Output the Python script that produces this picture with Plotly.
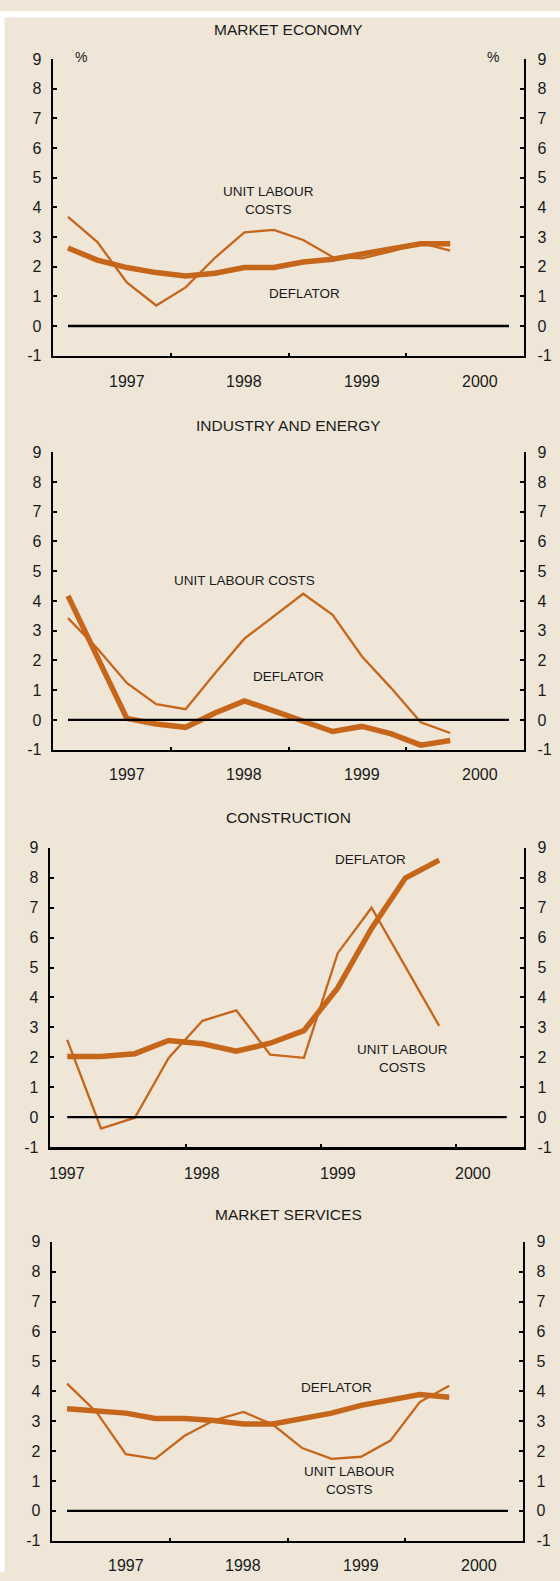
import plotly.graph_objects as go

W, H = 560, 1581

# ---------------- data ----------------
YEARS = ["1997", "1998", "1999", "2000"]
QUARTERS = [f"{y}Q{q}" for y in YEARS for q in (1, 2, 3, 4)]

ME_ULC = [3.68, 2.83, 1.47, 0.69, 1.30, 2.30, 3.16, 3.24, 2.90, 2.33, 2.28, 2.52, 2.80, 2.54]
ME_DEF = [2.63, 2.22, 1.97, 1.80, 1.69, 1.78, 1.97, 1.97, 2.16, 2.25, 2.43, 2.58, 2.77, 2.77]

IE_ULC = [3.42, 2.40, 1.24, 0.53, 0.36, 1.57, 2.73, 3.47, 4.24, 3.53, 2.13, 1.06, -0.08, -0.44]
IE_DEF = [4.17, 2.10, 0.05, -0.14, -0.25, 0.23, 0.64, 0.30, -0.03, -0.39, -0.22, -0.47, -0.85, -0.69]

CO_ULC = [2.58, -0.38, -0.02, 1.98, 3.22, 3.57, 2.09, 1.98, 5.48, 7.00, 5.03, 3.05]
CO_DEF = [2.03, 2.03, 2.12, 2.56, 2.45, 2.20, 2.47, 2.89, 4.32, 6.31, 7.99, 8.59]

MS_ULC = [4.26, 3.31, 1.90, 1.74, 2.51, 3.03, 3.31, 2.89, 2.10, 1.74, 1.81, 2.35, 3.64, 4.19]
MS_DEF = [3.42, 3.35, 3.27, 3.09, 3.09, 3.02, 2.91, 2.91, 3.09, 3.27, 3.53, 3.71, 3.89, 3.80]

Y_TICKS = list(range(-1, 10))

# ---------------- style ----------------
BG = "#EFE6D8"
ORANGE = "#C6661B"
TXT = "#1a1a1a"
FONT = "Liberation Sans, Arial, sans-serif"
LW = 2.6  # axis line width

panels = [
    dict(title="MARKET ECONOMY", ulc=ME_ULC, dfl=ME_DEF, ncat=16,
         box=(52, 525, 51.7, 352.7), title_y=21.7, years_y=377.8, year_off=2.5,
         notes=[("UNIT LABOUR<br>COSTS", 268.6, 194.5), ("DEFLATOR", 304, 289)],
         pct=True),
    dict(title="INDUSTRY AND ENERGY", ulc=IE_ULC, dfl=IE_DEF, ncat=16,
         box=(52, 525, 449, 751), title_y=421.7, years_y=775, year_off=2.5,
         notes=[("UNIT LABOUR COSTS", 244, 578.3), ("DEFLATOR", 288.6, 676)],
         pct=False),
    dict(title="CONSTRUCTION", ulc=CO_ULC, dfl=CO_DEF, ncat=14,
         box=(49, 525, 849, 1152.7), title_y=818, years_y=1178, year_off=0.5,
         notes=[("DEFLATOR", 370, 860.7), ("UNIT LABOUR<br>COSTS", 402.5, 1062)],
         pct=False),
    dict(title="MARKET SERVICES", ulc=MS_ULC, dfl=MS_DEF, ncat=16,
         box=(51, 524, 1247.3, 1550.7), title_y=1219.3, years_y=1574, year_off=2.5,
         notes=[("DEFLATOR", 336.8, 1394), ("UNIT LABOUR<br>COSTS", 349.3, 1489)],
         pct=False),
]


def px_x(p):
    return p / W


def px_y(p):
    return 1 - p / H


fig = go.Figure()
annotations = []
layout = {}

for i, P in enumerate(panels):
    xn = i + 1
    yl = 2 * i + 1
    yr = 2 * i + 2
    xa = "x" if xn == 1 else f"x{xn}"
    ya_l = "y" if yl == 1 else f"y{yl}"
    ya_r = f"y{yr}"
    x0, x1, ytop, ybot = P["box"]
    # axis lines are drawn half a line width outside the domain
    xdom = [px_x(x0 + LW / 2), px_x(x1 - LW / 2)]
    ydom = [px_y(ybot - LW / 2), px_y(ytop)]
    n = len(P["ulc"])
    xs = [QUARTERS.index(q) + 0.5 for q in QUARTERS[:n]]

    # zero line (on right axis so that axis exists)
    fig.add_trace(go.Scatter(
        x=[0.5, P["ncat"] - 0.5], y=[0, 0], mode="lines",
        line=dict(color="black", width=2.4), xaxis=xa, yaxis=ya_r,
        hoverinfo="skip", showlegend=False))
    fig.add_trace(go.Scatter(
        x=xs, y=P["ulc"], mode="lines", name="Unit labour costs",
        line=dict(color=ORANGE, width=2.3), xaxis=xa, yaxis=ya_l,
        showlegend=False))
    fig.add_trace(go.Scatter(
        x=xs, y=P["dfl"], mode="lines", name="Deflator",
        line=dict(color=ORANGE, width=5.5), xaxis=xa, yaxis=ya_l,
        showlegend=False))

    xkey = "xaxis" if xn == 1 else f"xaxis{xn}"
    ylkey = "yaxis" if yl == 1 else f"yaxis{yl}"
    yrkey = f"yaxis{yr}"
    layout[xkey] = dict(
        domain=xdom, range=[0, P["ncat"]], anchor=ya_l,
        showline=True, linecolor="black", linewidth=LW,
        tickvals=[4, 8, 12], ticks="inside", ticklen=3, tickwidth=2,
        tickcolor="black", showticklabels=False, showgrid=False,
        zeroline=False, fixedrange=True)
    common_y = dict(
        domain=ydom, range=[-1, 9], tickvals=Y_TICKS,
        ticktext=[str(v) for v in Y_TICKS],
        showline=True, linecolor="black", linewidth=LW,
        ticks="inside", ticklen=4, tickwidth=2, tickcolor="black",
        showgrid=False, zeroline=False, fixedrange=True,
        tickfont=dict(family=FONT, size=16, color=TXT))
    layout[ylkey] = dict(common_y, anchor=xa, side="left",
                         ticklabelstandoff=6)
    layout[yrkey] = dict(common_y, anchor=xa, side="right",
                         overlaying=ya_l, ticklabelstandoff=8)

    # title
    annotations.append(dict(
        text=P["title"], x=px_x(288.6), y=px_y(P["title_y"]),
        xref="paper", yref="paper", xanchor="center", yanchor="middle",
        showarrow=False, font=dict(family=FONT, size=15.5, color=TXT)))
    # year labels
    for k, yr_lbl in enumerate(YEARS):
        annotations.append(dict(
            text=yr_lbl, x=4 * k + P["year_off"], y=px_y(P["years_y"]),
            xref=xa, yref="paper", xanchor="center", yanchor="middle",
            showarrow=False, font=dict(family=FONT, size=16, color=TXT)))
    # series notes
    for txt, nx, ny in P["notes"]:
        annotations.append(dict(
            text=txt, x=px_x(nx), y=px_y(ny), xref="paper", yref="paper",
            xanchor="center", yanchor="middle", showarrow=False,
            font=dict(family=FONT, size=13.5, color=TXT)))
    if P["pct"]:
        for pxp in (81.4, 493):
            annotations.append(dict(
                text="%", x=px_x(pxp), y=px_y(50), xref="paper", yref="paper",
                xanchor="center", yanchor="middle", showarrow=False,
                font=dict(family=FONT, size=14, color=TXT)))

shapes = [
    dict(type="rect", xref="paper", yref="paper", x0=0, x1=1,
         y0=px_y(9.5), y1=px_y(3), fillcolor="white", line=dict(width=0),
         layer="below"),
    dict(type="rect", xref="paper", yref="paper", x0=0, x1=px_x(4.5),
         y0=0, y1=px_y(3), fillcolor="white", line=dict(width=0),
         layer="below"),
]

fig.update_layout(
    width=W, height=H, margin=dict(l=0, r=0, t=0, b=0),
    paper_bgcolor=BG, plot_bgcolor="rgba(0,0,0,0)",
    showlegend=False, annotations=annotations, shapes=shapes,
    font=dict(family=FONT, color=TXT), **layout)

fig.write_html(
    "out.html",
    config={"displayModeBar": False, "staticPlot": True},
    post_script="document.body.style.margin='0';"
                "document.body.style.background='" + BG + "';")
